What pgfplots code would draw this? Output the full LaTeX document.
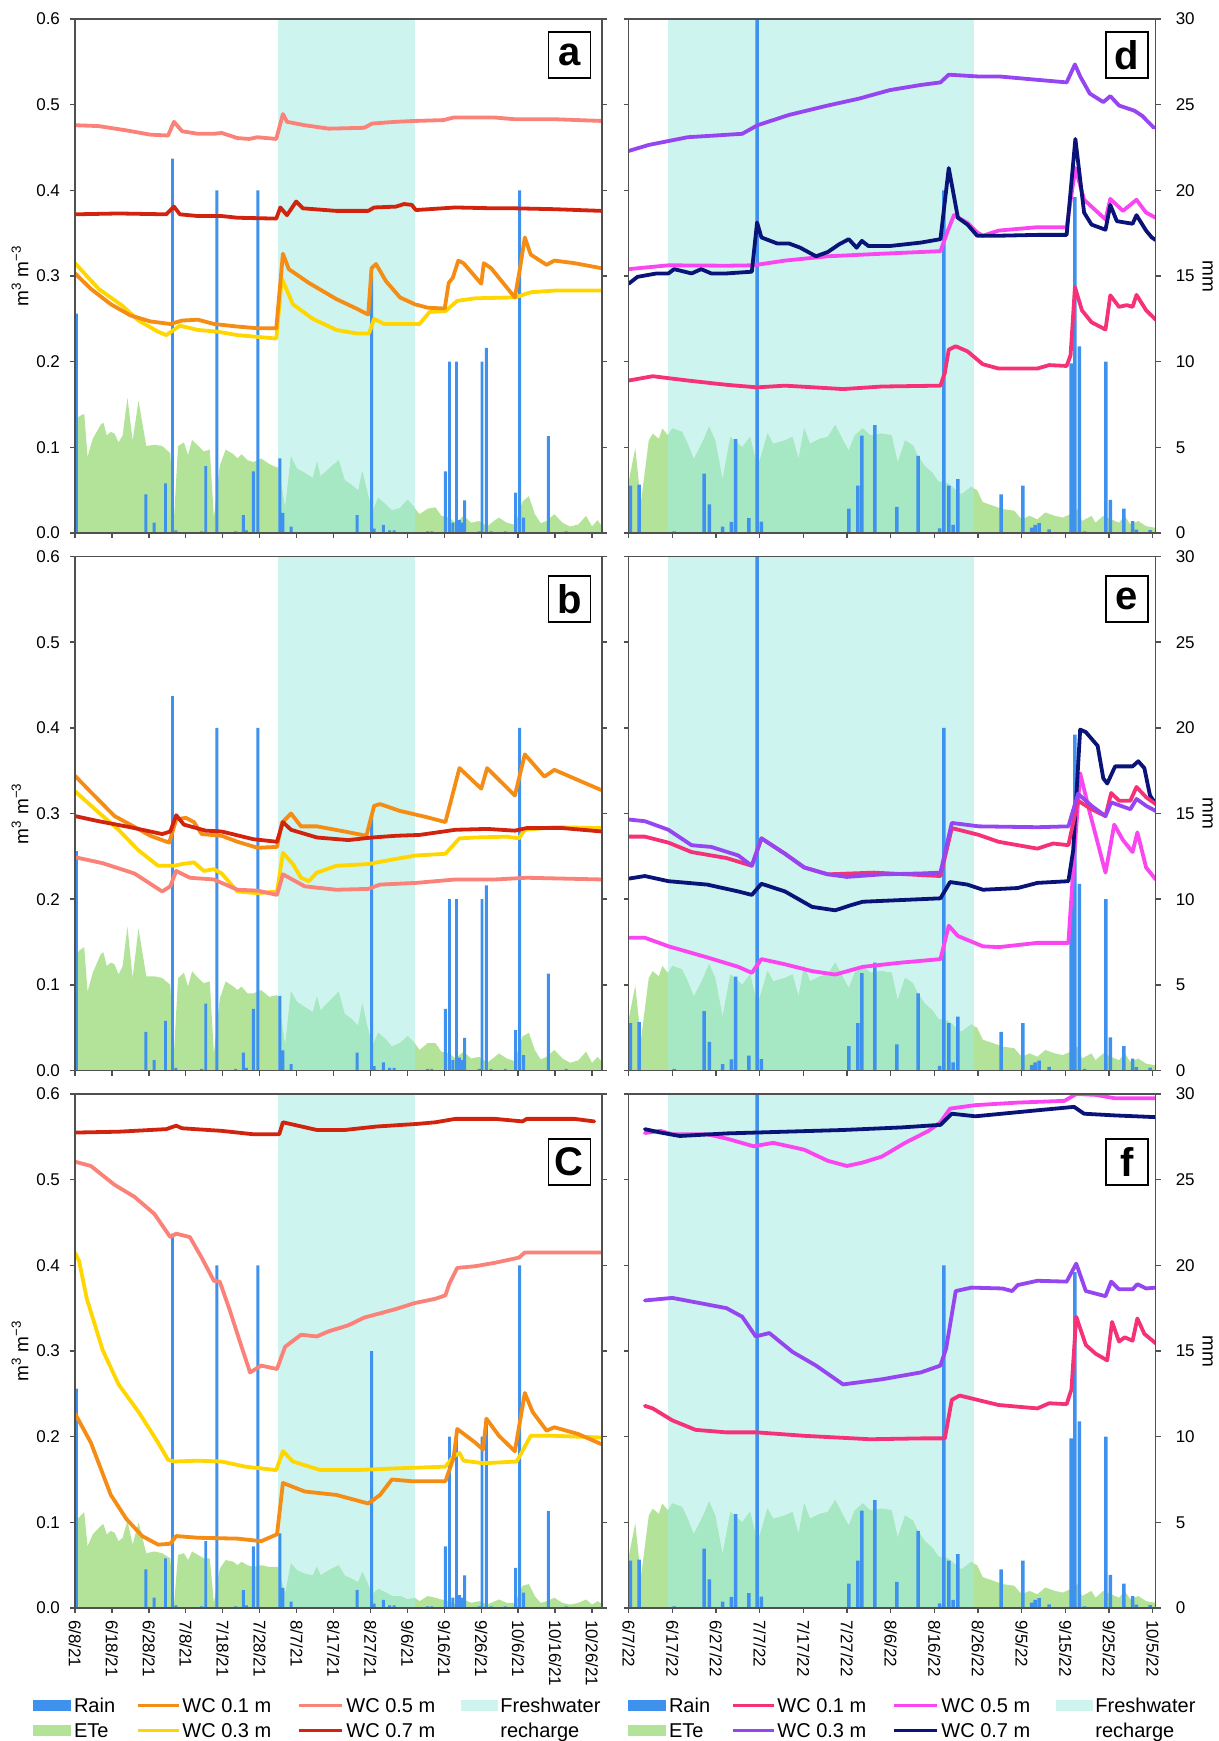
\documentclass[border=0pt]{standalone}
\usepackage{fontspec}
\setmainfont{Liberation Sans}
\usepackage{pgfplots}
\usepackage{pgfplotstable}
\pgfplotsset{compat=1.18}

\definecolor{rainblue}{RGB}{62,146,238}
\definecolor{etegreen}{RGB}{178,227,152}
\definecolor{rech}{RGB}{205,244,238}
\definecolor{mint}{RGB}{166,232,196}
\definecolor{wcAa}{RGB}{245,140,20}
\definecolor{wcAb}{RGB}{255,214,0}
\definecolor{wcAc}{RGB}{250,130,120}
\definecolor{wcAd}{RGB}{210,35,15}
\definecolor{wcBa}{RGB}{245,50,120}
\definecolor{wcBb}{RGB}{150,70,240}
\definecolor{wcBc}{RGB}{250,70,240}
\definecolor{wcBd}{RGB}{10,20,120}
\definecolor{axisgray}{RGB}{80,80,80}

% ---------- rain (mm) ----------
\pgfplotstableread{
x y
0.4 12.8
19.2 2.25
21.4 0.6
24.5 2.9
26.4 21.85
27.3 0.15
34.3 0.1
35.4 3.9
38.4 20
43.5 0.1
45.6 1.05
46.4 0.15
48.3 3.6
49.5 20
55.5 4.35
56.3 1.17
58.5 0.37
76.4 1.05
80.3 15
81.0 0.25
83.5 0.48
85.2 0.15
86.4 0.15
95.5 0.1
96.6 0.1
100.3 3.6
101.4 10
102.3 0.6
103.3 10
104.1 0.75
104.7 0.6
105.5 1.9
109.4 0.1
110.2 10
111.4 10.8
112.7 0.1
116.5 0.1
119.3 2.35
120.4 20
121.5 0.9
128.2 5.65
133.0 0.1
}\rainL

\pgfplotstableread{
x y
0.4 2.77
2.4 2.83
10.4 0.1
17.3 3.46
18.5 1.67
21.5 0.37
23.5 0.65
24.5 5.48
27.5 0.87
29.4 45
30.4 0.67
50.4 1.42
52.5 2.77
53.4 5.69
56.4 6.29
61.4 1.52
66.3 4.5
71.2 0.27
72.2 20
73.3 2.77
74.3 0.48
75.4 3.15
85.3 2.25
90.3 2.77
92.3 0.31
93.1 0.48
94.0 0.58
96.3 0.21
101.3 9.9
102.2 19.6
103.2 10.9
104.4 0.1
109.3 10
110.3 1.94
113.4 1.42
115.4 0.69
116.3 0.2
119.4 0.17
}\rainR

% ---------- ETe (mm) ----------
\pgfplotstableread{
x y
0 6.44
1.1 6.8
2.5 6.96
3.4 4.45
4.8 5.5
7.0 6.33
7.7 6.44
8.6 5.7
9.7 5.9
10.7 5.8
11.8 5.29
12.9 5.7
14.2 7.9
15.6 5.39
17.2 7.73
19.3 5.08
21.5 5.15
23.6 5.08
25.8 4.66
26.8 0.8
27.9 5.08
29.5 5.29
30.6 4.55
31.7 5.43
33.3 5.1
34.9 4.76
36.5 4.87
37.6 0.9
39.2 3.93
40.8 4.87
42.9 4.6
44.0 4.35
45.1 4.6
46.7 4.25
48.3 4.14
50.4 4.35
52.6 4.03
54.7 3.82
55.0 3.9
56.9 1.42
58.5 4.45
60.1 3.75
62.2 3.51
64.4 3.2
65.5 4.14
66.5 3.3
68.7 3.75
71.4 4.24
73.0 3.09
74.9 2.8
76.7 2.47
77.8 3.61
78.9 2.6
80.5 1.21
82.1 2.05
84.2 1.65
85.8 1.32
88.0 1.45
90.1 1.94
92.0 1.45
93.3 1.1
95.5 1.42
97.6 1.5
99.2 1.0
101.4 0.9
103.0 0.58
105.2 1.0
107.3 0.6
109.4 0.7
111.6 0.38
113.7 0.75
114.8 0.9
116.9 0.6
119.1 0.48
121.2 1.84
122.9 2.15
124.5 1.1
126.1 0.58
127.7 0.7
129.8 1.1
132.0 0.6
134.1 0.38
136.3 0.5
138.4 1.0
140.0 0.38
141.5 0.75
142.7 0.38
}\eteA

\pgfplotstableread{
x y
0 6.5
1.1 7.0
2.5 7.2
3.4 4.6
4.8 5.7
7.0 6.8
7.7 6.9
8.6 6.1
9.7 6.3
10.7 6.2
11.8 5.6
12.9 6.1
14.2 8.4
15.6 5.4
17.2 8.3
19.3 5.5
21.5 5.5
23.6 5.4
25.8 5.0
26.8 1.0
27.9 5.4
29.5 5.7
30.6 4.9
31.7 5.8
33.3 5.4
34.9 5.1
36.5 5.2
37.6 1.0
39.2 4.2
40.8 5.2
42.9 4.9
44.0 4.7
45.1 4.9
46.7 4.5
48.3 4.5
50.4 4.7
52.6 4.3
54.7 4.4
55.0 4.3
56.9 1.4
58.5 4.6
60.1 4.0
62.2 3.7
64.4 3.4
65.5 4.3
66.5 3.5
68.7 4.0
71.4 4.6
73.0 3.3
74.9 3.0
76.7 2.6
77.8 3.9
78.9 2.8
80.5 1.4
82.1 2.2
84.2 1.8
85.8 1.4
88.0 1.6
90.1 2.0
92.0 1.6
93.3 1.2
95.5 1.6
97.6 1.6
99.2 1.1
101.4 1.0
103.0 0.7
105.2 1.1
107.3 0.7
109.4 0.8
111.6 0.45
113.7 0.8
114.8 1.0
116.9 0.7
119.1 0.55
121.2 2.0
122.9 2.2
124.5 1.2
126.1 0.65
127.7 0.8
129.8 1.2
132.0 0.7
134.1 0.45
136.3 0.6
138.4 1.1
140.0 0.45
141.5 0.8
142.7 0.5
}\eteB

\pgfplotstableread{
x y
0 5.0
1.1 5.3
2.5 5.6
3.4 3.6
4.8 4.3
7.0 4.8
7.7 4.9
8.6 4.3
9.7 4.5
10.7 4.4
11.8 3.9
12.9 4.1
14.2 5.1
15.6 3.7
17.2 5.0
19.3 3.2
21.5 3.3
23.6 3.2
25.8 2.9
26.8 0.2
27.9 3.1
29.5 3.2
30.6 2.8
31.7 3.3
33.3 3.1
34.9 2.9
36.5 2.9
37.6 0.3
39.2 2.3
40.8 2.8
42.9 2.7
44.0 2.5
45.1 2.7
46.7 2.5
48.3 2.4
50.4 2.5
52.6 2.4
54.7 2.4
55.0 2.4
56.9 0.8
58.5 2.6
60.1 2.2
62.2 2.0
64.4 1.9
65.5 2.4
66.5 1.9
68.7 2.2
71.4 2.5
73.0 1.9
74.9 1.7
76.7 1.5
77.8 2.1
78.9 1.6
80.5 0.8
82.1 1.1
84.2 0.9
85.8 0.7
88.0 0.7
90.1 0.5
92.0 0.6
93.3 0.4
95.5 0.7
97.6 0.6
99.2 0.5
101.4 0.4
103.0 0.2
105.2 0.5
107.3 0.3
109.4 0.4
111.6 0.2
113.7 0.4
114.8 0.5
116.9 0.3
119.1 0.3
121.2 1.3
122.9 1.4
124.5 0.7
126.1 0.3
127.7 0.4
129.8 0.6
132.0 0.3
134.1 0.2
136.3 0.3
138.4 0.5
140.0 0.2
141.5 0.4
142.7 0.24
}\eteC

\pgfplotstableread{
x y
0 3.0
1.5 4.96
2.8 1.8
4.6 5.4
5.5 5.8
6.9 5.5
7.7 6.1
9.0 5.7
10.0 6.1
12.2 5.9
13.5 5.2
14.9 4.3
17.1 5.4
18.4 6.2
19.8 5.4
21.5 3.1
23.3 5.6
26.0 5.0
27.8 5.6
29.5 3.8
30.9 5.0
31.8 5.8
33.1 5.2
35.8 5.4
37.5 5.6
38.9 4.3
40.2 6.1
41.5 5.2
43.8 5.5
45.6 5.6
47.3 6.3
49.1 5.4
50.4 4.8
51.8 5.7
53.6 6.1
55.3 5.7
58.0 5.8
60.2 5.7
61.6 4.1
63.3 5.4
65.1 5.1
66.0 4.6
67.8 3.9
69.6 3.5
70.9 3.0
73.1 2.9
74.5 2.6
76.2 2.25
78.5 2.7
79.0 2.6
79.8 2.5
81.1 1.8
83.4 1.6
85.6 1.4
88.3 1.3
90.0 0.8
91.8 1.0
93.6 0.8
95.4 1.2
97.6 1.0
99.4 0.9
101.2 1.1
102.9 1.4
103.8 0.7
106.0 1.0
106.9 0.6
108.7 1.0
110.5 0.8
112.3 0.6
113.6 1.0
114.9 0.5
116.7 0.7
118.5 0.4
120.7 0.3
}\eteR

\pgfplotsset{
  panel/.style={
    scale only axis, width=263.5pt, height=257pt, anchor=north west,
    ymin=0, ymax=0.6, xmin=0,
    axis line style={draw=axisgray, line width=0.7pt},
    every tick/.style={draw=axisgray, line width=0.7pt},
    tick align=outside, major tick length=2.5pt,
    xtick pos=left, ytick pos=both,
    ytick={0,0.1,0.2,0.3,0.4,0.5,0.6},
    ticklabel style={font=\fontsize{8.5}{10}\selectfont},
    xticklabels={},
    axis on top, clip=true,
  },
  leftpanel/.style={panel, xmax=142.7, xtick={0,10,...,140},
    yticklabel pos=left, yticklabels={0.0,0.1,0.2,0.3,0.4,0.5,0.6},
    yticklabel style={xshift=-1.5pt},
    ylabel={m\textsuperscript{3} m\textsuperscript{−3}},
    ylabel style={at={(axis description cs:-0.1044,0.5)}, anchor=center, font=\fontsize{9.5}{11}\selectfont}},
  rightpanel/.style={panel, xmax=120.7, xtick={0,10,...,120},
    yticklabel pos=right, yticklabels={0,5,10,15,20,25,30},
    yticklabel style={xshift=4pt},
    ylabel={mm},
    ylabel style={rotate=180, at={(axis description cs:1.0987,0.5)}, anchor=center, font=\fontsize{9.5}{11}\selectfont}},
  botL/.style={xticklabels={6/8/21,6/18/21,6/28/21,7/8/21,7/18/21,7/28/21,8/7/21,8/17/21,8/27/21,9/6/21,9/16/21,9/26/21,10/6/21,10/16/21,10/26/21},
    xticklabel style={rotate=-90, anchor=west}},
  botR/.style={xticklabels={6/7/22,6/17/22,6/27/22,7/7/22,7/17/22,7/27/22,8/6/22,8/16/22,8/26/22,9/5/22,9/15/22,9/25/22,10/5/22},
    xticklabel style={rotate=-90, anchor=west}},
  wc/.style={line width=1.9pt, line join=round, line cap=round},
  rainbar/.style={ybar, bar width=0.8, bar shift=0pt, fill=rainblue, draw=none, y filter/.expression={y/50}},
  ete/.style={draw=none, fill=etegreen, y filter/.expression={y/50}},
}
\tikzset{panellabel/.style={draw=black, line width=0.9pt, fill=white, anchor=north east,
  minimum width=21pt, minimum height=23pt, inner sep=0pt, font=\bfseries\fontsize{20}{20}\selectfont}}

\begin{document}
\begin{tikzpicture}
\path[use as bounding box] (0,0) rectangle (609.5pt,-870.5pt);

% ================= panel a =================
\begin{axis}[leftpanel, at={(37.5pt,-9.5pt)}]
\addplot[draw=none, fill=rech] coordinates {(55,0.6) (92,0.6)} \closedcycle;
\addplot[ete] table {\eteA} \closedcycle;
\addplot[ete, fill=mint, restrict x to domain=55:92] table {\eteA} \closedcycle;
\addplot[rainbar] table {\rainL};
\addplot[wc, wcAc] coordinates {(0,0.476) (6.4,0.475) (13.9,0.470) (20.4,0.465) (25.2,0.464) (26.8,0.480) (29.0,0.469) (33.3,0.466) (37.6,0.466) (39.7,0.467) (44.0,0.461) (47.2,0.460) (49.4,0.462) (54.5,0.460) (56.3,0.489) (57.4,0.480) (62.2,0.476) (68.7,0.472) (78.3,0.473) (80.5,0.478) (86.9,0.480) (92.0,0.481) (99.8,0.482) (102.5,0.485) (113.7,0.485) (119.1,0.483) (129.8,0.483) (142.7,0.481)};
\addplot[wc, wcAd] coordinates {(0,0.372) (11.8,0.373) (24.7,0.372) (26.8,0.381) (28.4,0.372) (33.3,0.370) (39.7,0.370) (44.0,0.368) (54.5,0.367) (55.6,0.380) (57.4,0.371) (59.9,0.387) (61.7,0.379) (70.8,0.376) (79.4,0.376) (81.0,0.380) (86.9,0.381) (89.1,0.384) (91.2,0.383) (92.3,0.377) (103.0,0.380) (113.7,0.379) (119.1,0.379) (129.8,0.378) (142.7,0.376)};
\addplot[wc, wcAb] coordinates {(0,0.315) (6.4,0.285) (12.9,0.265) (17.2,0.248) (22.5,0.235) (24.7,0.231) (28.4,0.242) (33.3,0.237) (38.6,0.235) (44.0,0.231) (54.5,0.227) (56.0,0.297) (59.0,0.267) (64.4,0.250) (70.8,0.237) (76.2,0.233) (79.6,0.233) (81.0,0.250) (83.7,0.244) (93.3,0.244) (96.0,0.258) (100.3,0.259) (103.5,0.271) (108.4,0.274) (119.1,0.275) (123.4,0.281) (129.8,0.283) (142.7,0.283)};
\addplot[wc, wcAa] coordinates {(0,0.303) (4.3,0.285) (9.7,0.267) (15.0,0.254) (20.4,0.247) (25.8,0.244) (29.0,0.248) (33.3,0.249) (37.6,0.244) (44.0,0.241) (49.4,0.239) (54.5,0.239) (56.3,0.326) (57.9,0.308) (63.3,0.292) (70.8,0.273) (76.2,0.262) (79.4,0.255) (80.3,0.309) (81.5,0.314) (84.2,0.294) (88.0,0.275) (92.0,0.267) (95.5,0.263) (100.1,0.262) (101.2,0.292) (102.3,0.298) (103.8,0.318) (105.2,0.315) (110.0,0.291) (110.7,0.315) (112.7,0.309) (119.1,0.275) (120.5,0.309) (121.8,0.345) (123.4,0.325) (127.7,0.313) (129.8,0.318) (135.2,0.315) (142.7,0.309)};
\node[panellabel] at (rel axis cs:0.9797,0.9767) {a};
\end{axis}

% ================= panel b =================
\begin{axis}[leftpanel, at={(37.5pt,-278.25pt)}]
\addplot[draw=none, fill=rech] coordinates {(55,0.6) (92,0.6)} \closedcycle;
\addplot[ete] table {\eteB} \closedcycle;
\addplot[ete, fill=mint, restrict x to domain=55:92] table {\eteB} \closedcycle;
\addplot[rainbar] table {\rainL};
\addplot[wc, wcAb] coordinates {(0,0.326) (5.4,0.305) (11.8,0.281) (17.2,0.257) (22.5,0.239) (26.8,0.239) (29.0,0.241) (32.2,0.243) (34.9,0.233) (37.6,0.235) (39.7,0.230) (44.0,0.209) (49.4,0.207) (54.7,0.209) (56.3,0.254) (59.0,0.241) (61.2,0.225) (63.3,0.221) (65.5,0.231) (70.8,0.239) (79.4,0.241) (86.9,0.247) (92.3,0.251) (100.3,0.253) (104.1,0.271) (108.4,0.272) (116.9,0.273) (120.2,0.271) (121.8,0.281) (129.8,0.284) (142.7,0.283)};
\addplot[wc, wcAc] coordinates {(0,0.249) (7.5,0.242) (16.1,0.230) (23.6,0.209) (25.8,0.215) (27.4,0.233) (31.1,0.225) (37.6,0.223) (44.0,0.211) (49.4,0.210) (54.7,0.205) (56.3,0.229) (62.2,0.215) (70.8,0.211) (79.4,0.212) (82.6,0.217) (92.3,0.219) (103.0,0.223) (113.7,0.223) (122.3,0.225) (142.7,0.223)};
\addplot[wc, wcAa] coordinates {(0,0.344) (4.3,0.325) (10.7,0.297) (15.0,0.287) (20.4,0.274) (25.5,0.266) (27.4,0.293) (30.0,0.295) (32.2,0.290) (34.3,0.276) (39.7,0.274) (44.0,0.267) (49.4,0.260) (54.7,0.261) (56.0,0.289) (58.5,0.300) (61.2,0.285) (65.5,0.285) (73.0,0.279) (78.9,0.274) (81.0,0.309) (82.6,0.311) (88.0,0.303) (95.0,0.296) (100.3,0.290) (104.1,0.353) (110.0,0.329) (111.6,0.353) (119.1,0.321) (121.8,0.369) (127.1,0.343) (129.8,0.351) (137.3,0.337) (142.7,0.327)};
\addplot[wc, wcAd] coordinates {(0,0.297) (6.4,0.291) (15.0,0.284) (23.6,0.276) (25.8,0.279) (27.4,0.298) (29.5,0.287) (35.4,0.280) (39.7,0.279) (48.3,0.270) (54.7,0.267) (56.3,0.290) (58.5,0.281) (65.5,0.272) (74.0,0.269) (80.5,0.272) (86.9,0.274) (93.3,0.275) (103.0,0.281) (111.6,0.282) (119.1,0.280) (122.3,0.283) (132.0,0.283) (142.7,0.279)};
\node[panellabel] at (rel axis cs:0.9797,0.964) {b};
\end{axis}

% ================= panel c =================
\begin{axis}[leftpanel, botL, at={(37.5pt,-547pt)}]
\addplot[draw=none, fill=rech] coordinates {(55,0.6) (92,0.6)} \closedcycle;
\addplot[ete] table {\eteC} \closedcycle;
\addplot[ete, fill=mint, restrict x to domain=55:92] table {\eteC} \closedcycle;
\addplot[rainbar] table {\rainL};
\addplot[wc, wcAd] coordinates {(0,0.555) (11.8,0.556) (24.7,0.559) (27.4,0.563) (29.0,0.560) (39.7,0.557) (48.3,0.553) (55.3,0.553) (56.3,0.567) (65.5,0.558) (73.0,0.558) (81.5,0.562) (92.3,0.565) (97.6,0.567) (103.0,0.571) (113.7,0.571) (121.2,0.568) (122.3,0.571) (135.2,0.571) (140.6,0.568)};
\addplot[wc, wcAc] coordinates {(0,0.521) (4.3,0.516) (10.7,0.494) (16.1,0.480) (21.5,0.460) (25.8,0.433) (27.4,0.437) (31.1,0.433) (34.3,0.409) (37.6,0.382) (39.2,0.381) (41.8,0.349) (45.1,0.305) (47.4,0.275) (50.4,0.283) (54.7,0.279) (56.9,0.305) (61.2,0.319) (65.5,0.317) (68.7,0.323) (74.0,0.330) (78.3,0.339) (86.9,0.349) (92.0,0.356) (97.6,0.361) (100.3,0.365) (101.4,0.379) (103.5,0.397) (108.4,0.399) (113.7,0.403) (120.2,0.409) (121.8,0.415) (129.8,0.415) (142.7,0.415)};
\addplot[wc, wcAb] coordinates {(0,0.415) (1.1,0.405) (3.2,0.361) (7.5,0.301) (11.8,0.261) (17.2,0.229) (22.5,0.193) (25.2,0.173) (26.8,0.171) (33.3,0.172) (39.7,0.171) (46.1,0.165) (54.5,0.161) (56.3,0.183) (59.0,0.171) (66.5,0.161) (76.2,0.161) (86.9,0.163) (100.3,0.165) (102.5,0.177) (104.1,0.181) (105.2,0.172) (110.5,0.169) (119.6,0.171) (123.4,0.201) (129.8,0.201) (142.7,0.199)};
\addplot[wc, wcAa] coordinates {(0,0.227) (4.3,0.193) (9.7,0.132) (13.9,0.104) (18.2,0.084) (22.5,0.074) (25.8,0.075) (27.4,0.084) (33.3,0.082) (44.0,0.081) (50.4,0.078) (54.7,0.086) (56.3,0.146) (62.2,0.136) (70.8,0.132) (79.4,0.122) (82.6,0.132) (85.8,0.150) (91.2,0.148) (100.3,0.148) (102.5,0.175) (103.5,0.209) (108.4,0.193) (110.5,0.185) (111.4,0.221) (114.8,0.201) (119.1,0.183) (121.8,0.251) (123.9,0.229) (127.7,0.207) (129.8,0.211) (136.3,0.203) (142.7,0.191)};
\node[panellabel] at (rel axis cs:0.9797,0.9144) {C};
\end{axis}

% ================= panel d =================
\begin{axis}[rightpanel, at={(314.35pt,-9.5pt)}]
\addplot[draw=none, fill=rech] coordinates {(9,0.6) (79,0.6)} \closedcycle;
\addplot[ete] table {\eteR} \closedcycle;
\addplot[ete, fill=mint, restrict x to domain=9:79] table {\eteR} \closedcycle;
\addplot[rainbar] table {\rainR};
\addplot[wc, wcBa] coordinates {(0,0.178) (5.5,0.183) (13.5,0.178) (22.4,0.173) (29.4,0.170) (35.8,0.172) (49.1,0.168) (58.0,0.171) (71.4,0.172) (72.4,0.187) (73.3,0.214) (74.9,0.218) (77.6,0.212) (81.1,0.197) (84.7,0.192) (93.6,0.192) (96.3,0.196) (100.3,0.195) (101.2,0.2075) (102.2,0.287) (103.8,0.260) (106.0,0.246) (109.2,0.2375) (110.3,0.2775) (112.3,0.264) (114.1,0.266) (115.4,0.264) (116.3,0.278) (118.5,0.260) (120.7,0.249)};
\addplot[wc, wcBc] coordinates {(0,0.308) (9.1,0.3125) (22.4,0.312) (28.6,0.3125) (35.8,0.318) (45.6,0.323) (58.0,0.326) (71.4,0.329) (73.1,0.353) (74.5,0.371) (77.6,0.362) (79.8,0.351) (81.1,0.347) (84.7,0.353) (93.6,0.357) (100.3,0.357) (102.3,0.426) (104.3,0.389) (109.2,0.366) (110.3,0.390) (113.2,0.376) (116.3,0.389) (118.5,0.374) (120.7,0.368)};
\addplot[wc, wcBd] coordinates {(0,0.291) (2.0,0.299) (6.4,0.303) (9.1,0.303) (10.4,0.308) (14.4,0.303) (16.6,0.308) (18.9,0.303) (22.4,0.303) (28.2,0.305) (29.4,0.3625) (30.4,0.345) (34.0,0.338) (36.7,0.338) (39.3,0.333) (42.9,0.323) (45.6,0.328) (48.2,0.337) (50.4,0.343) (52.2,0.333) (53.4,0.341) (54.9,0.335) (59.8,0.335) (66.9,0.339) (71.4,0.343) (73.3,0.426) (75.4,0.368) (77.6,0.360) (79.8,0.347) (84.7,0.347) (93.6,0.348) (100.3,0.348) (102.3,0.460) (104.3,0.374) (106.0,0.360) (109.2,0.354) (110.3,0.383) (111.8,0.364) (115.4,0.361) (116.3,0.371) (118.5,0.353) (119.8,0.345) (120.7,0.342)};
\addplot[wc, wcBb] coordinates {(0,0.446) (4.6,0.453) (13.5,0.462) (19.8,0.464) (26.0,0.466) (29.5,0.476) (36.7,0.488) (45.6,0.499) (52.7,0.507) (59.8,0.517) (66.9,0.523) (71.4,0.526) (73.3,0.535) (79.8,0.533) (84.7,0.533) (93.6,0.529) (100.3,0.526) (102.2,0.547) (103.4,0.533) (105.6,0.513) (108.7,0.503) (110.3,0.510) (112.3,0.499) (115.8,0.493) (117.6,0.487) (120.3,0.473)};
\node[panellabel] at (rel axis cs:0.9867,0.9767) {d};
\end{axis}

% ================= panel e =================
\begin{axis}[rightpanel, at={(314.35pt,-278.25pt)}]
\addplot[draw=none, fill=rech] coordinates {(9,0.6) (79,0.6)} \closedcycle;
\addplot[ete] table {\eteR} \closedcycle;
\addplot[ete, fill=mint, restrict x to domain=9:79] table {\eteR} \closedcycle;
\addplot[rainbar] table {\rainR};
\addplot[wc, wcBc] coordinates {(0,0.155) (3.7,0.155) (9.1,0.145) (18.0,0.132) (25.1,0.121) (28.2,0.114) (30.4,0.130) (35.8,0.124) (42.0,0.116) (47.3,0.112) (53.6,0.121) (62.5,0.126) (71.4,0.130) (73.3,0.169) (75.4,0.157) (81.1,0.145) (84.7,0.144) (93.6,0.149) (100.7,0.149) (102.0,0.249) (103.4,0.347) (105.6,0.301) (109.2,0.231) (111.2,0.287) (113.2,0.269) (115.4,0.255) (116.5,0.278) (118.5,0.237) (120.7,0.223)};
\addplot[wc, wcBd] coordinates {(0,0.224) (3.7,0.227) (9.1,0.221) (18.0,0.217) (25.1,0.209) (28.2,0.205) (30.4,0.218) (35.8,0.209) (42.0,0.191) (47.3,0.187) (50.9,0.193) (53.6,0.197) (62.5,0.199) (71.4,0.201) (73.6,0.220) (77.6,0.217) (81.1,0.211) (89.1,0.213) (93.6,0.219) (100.7,0.221) (101.8,0.257) (103.4,0.398) (104.7,0.395) (107.4,0.379) (108.7,0.341) (109.6,0.335) (111.4,0.355) (115.4,0.355) (116.7,0.361) (118.1,0.353) (119.4,0.321) (120.7,0.311)};
\addplot[wc, wcBa] coordinates {(0,0.273) (3.7,0.273) (9.1,0.266) (14.4,0.255) (22.4,0.248) (28.2,0.239) (30.4,0.271) (35.8,0.253) (40.2,0.237) (45.6,0.229) (56.2,0.231) (71.4,0.227) (74.0,0.283) (80.2,0.275) (84.7,0.267) (93.6,0.259) (97.2,0.265) (100.7,0.263) (102.9,0.315) (106.0,0.305) (109.2,0.297) (110.5,0.324) (112.3,0.315) (114.9,0.315) (116.3,0.331) (118.5,0.319) (120.7,0.311)};
\addplot[wc, wcBb] coordinates {(0,0.293) (3.7,0.291) (9.1,0.281) (14.4,0.263) (18.9,0.261) (25.1,0.251) (28.2,0.239) (30.4,0.271) (35.8,0.253) (40.2,0.237) (45.6,0.229) (50.0,0.226) (58.0,0.229) (66.9,0.230) (71.4,0.231) (74.0,0.289) (80.2,0.285) (93.6,0.284) (100.7,0.285) (102.9,0.323) (106.0,0.309) (109.2,0.297) (110.5,0.313) (114.9,0.305) (116.3,0.317) (118.5,0.309) (120.7,0.303)};
\node[panellabel] at (rel axis cs:0.9867,0.964) {e};
\end{axis}

% ================= panel f =================
\begin{axis}[rightpanel, botR, at={(314.35pt,-547pt)}]
\addplot[draw=none, fill=rech] coordinates {(9,0.6) (79,0.6)} \closedcycle;
\addplot[ete] table {\eteR} \closedcycle;
\addplot[ete, fill=mint, restrict x to domain=9:79] table {\eteR} \closedcycle;
\addplot[rainbar] table {\rainR};
\addplot[wc, wcBa] coordinates {(3.7,0.236) (5.5,0.233) (10.0,0.219) (15.3,0.208) (22.4,0.205) (29.5,0.205) (40.2,0.201) (55.3,0.197) (66.9,0.198) (72.4,0.198) (74.0,0.243) (75.8,0.248) (84.7,0.237) (93.6,0.233) (96.3,0.239) (100.3,0.238) (101.4,0.255) (102.5,0.340) (104.7,0.307) (106.9,0.297) (109.6,0.289) (110.7,0.334) (112.3,0.311) (113.6,0.316) (115.4,0.312) (116.5,0.338) (118.1,0.320) (120.7,0.309)};
\addplot[wc, wcBb] coordinates {(3.7,0.359) (10.0,0.362) (16.2,0.356) (22.4,0.350) (26.0,0.340) (29.1,0.317) (32.2,0.321) (37.5,0.299) (42.9,0.283) (49.1,0.261) (58.0,0.267) (66.9,0.275) (71.4,0.283) (72.7,0.303) (74.9,0.370) (78.5,0.374) (85.6,0.373) (87.8,0.370) (89.1,0.377) (93.6,0.382) (100.3,0.381) (102.5,0.402) (104.7,0.370) (109.2,0.364) (110.5,0.381) (112.3,0.372) (115.4,0.372) (116.5,0.378) (118.5,0.373) (120.7,0.374)};
\addplot[wc, wcBc] coordinates {(3.7,0.5545) (7.3,0.557) (10.0,0.553) (18.0,0.553) (22.4,0.548) (28.6,0.539) (33.1,0.543) (40.2,0.535) (45.6,0.522) (50.0,0.516) (53.6,0.520) (58.0,0.527) (63.3,0.543) (68.7,0.557) (71.4,0.567) (73.6,0.583) (79.4,0.587) (89.1,0.590) (99.8,0.592) (102.5,0.600) (106.9,0.599) (111.4,0.595) (120.7,0.595)};
\addplot[wc, wcBd] coordinates {(3.7,0.559) (7.3,0.555) (11.7,0.551) (22.4,0.554) (35.8,0.556) (49.1,0.558) (62.5,0.561) (71.4,0.564) (74.0,0.577) (79.4,0.574) (93.6,0.581) (102.0,0.585) (104.3,0.577) (111.4,0.575) (120.7,0.573)};
\node[panellabel] at (rel axis cs:0.9867,0.9144) {f};
\end{axis}

% ================= legends =================
\begin{scope}[font=\fontsize{10}{12}\selectfont]
\foreach \ox/\ca/\cb/\cc/\cd in {0pt/wcAa/wcAb/wcAc/wcAd, 297.5pt/wcBa/wcBb/wcBc/wcBd}{
  \begin{scope}[xshift=\ox]
  \fill[rainblue] (16.5pt,-850.1pt) rectangle (35.5pt,-855.4pt);
  \node[anchor=base west, inner sep=0pt] at (36.8pt,-856.2pt) {Rain};
  \fill[etegreen] (16.5pt,-862.6pt) rectangle (35.5pt,-867.9pt);
  \node[anchor=base west, inner sep=0pt] at (36.8pt,-868.7pt) {ETe};
  \draw[\ca, line width=1.65pt] (69pt,-852.75pt) -- (89.5pt,-852.75pt);
  \node[anchor=base west, inner sep=0pt] at (91pt,-856.2pt) {WC 0.1 m};
  \draw[\cb, line width=1.65pt] (69pt,-865.25pt) -- (89.5pt,-865.25pt);
  \node[anchor=base west, inner sep=0pt] at (91pt,-868.7pt) {WC 0.3 m};
  \draw[\cc, line width=1.65pt] (149.5pt,-852.75pt) -- (171pt,-852.75pt);
  \node[anchor=base west, inner sep=0pt] at (173pt,-856.2pt) {WC 0.5 m};
  \draw[\cd, line width=1.65pt] (149.5pt,-865.25pt) -- (171pt,-865.25pt);
  \node[anchor=base west, inner sep=0pt] at (173pt,-868.7pt) {WC 0.7 m};
  \fill[rech] (230.5pt,-850.1pt) rectangle (249pt,-855.4pt);
  \node[anchor=base west, inner sep=0pt] at (250pt,-856.2pt) {Freshwater};
  \node[anchor=base west, inner sep=0pt] at (250pt,-868.7pt) {recharge};
  \end{scope}
}
\end{scope}
\end{tikzpicture}
\end{document}
